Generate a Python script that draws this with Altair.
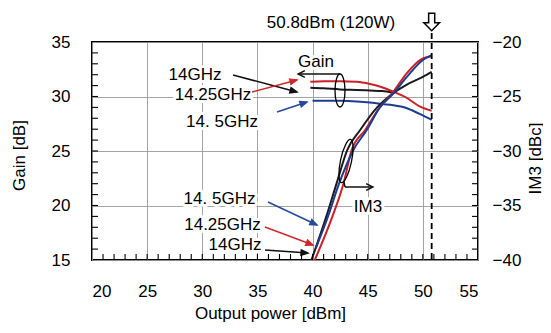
import math
import altair as alt
import pandas as pd

# ---------------- data ----------------
SERIES = ["14GHz", "14.25GHz", "14.5GHz"]
COLORS = ["#1a1a1a", "#cc1f26", "#1d3c8f"]

# Gain [dB] vs output power [dBm]
gain_14_p = [39.8, 41.0, 42.5, 44.0, 45.2, 46.3, 47.3]
gain_14_v = [30.8, 30.75, 30.65, 30.6, 30.55, 30.5, 30.35]
gain_1425_p = [39.8, 41.0, 42.5, 44.0, 45.2, 46.3, 47.3, 48.5, 49.7, 50.8]
gain_1425_v = [31.35, 31.4, 31.4, 31.35, 31.15, 30.85, 30.45, 29.9, 29.1, 28.7]
gain_145_p = [40.0, 41.0, 42.5, 44.0, 45.2, 46.3, 47.3, 48.5, 49.7, 50.8]
gain_145_v = [29.6, 29.6, 29.6, 29.55, 29.45, 29.3, 29.2, 28.95, 28.4, 27.85]

# IM3 [dBc] vs output power [dBm]
im3_14_p = [39.9, 41.25, 42.2, 43.15, 44.3, 45.85, 47.3, 48.55, 50.0, 50.8]
im3_14_v = [-40.0, -36.0, -32.9, -29.9, -28.1, -26.0, -24.7, -23.9, -23.2, -22.75]
im3_1425_p = [40.2, 41.8, 42.8, 43.55, 44.75, 46.1, 47.3, 48.55, 50.0, 50.8]
im3_1425_v = [-40.0, -36.0, -33.0, -29.9, -28.1, -26.0, -24.6, -22.85, -21.5, -21.3]
im3_145_p = [40.3, 41.4, 42.4, 43.7, 44.9, 46.1, 47.3, 48.55, 50.0, 50.8]
im3_145_v = [-38.9, -36.0, -33.0, -29.9, -28.1, -26.0, -24.75, -23.2, -21.65, -21.2]

MAX_POWER = 50.8
X_TICKS = [20, 25, 30, 35, 40, 45, 50, 55]
GAIN_TICKS = [15, 20, 25, 30, 35]
IM3_OFFSET = 55  # IM3 -40..-20 dBc drawn on the 15..35 dB scale
X_MINOR = list(range(21, 55))
Y_MINOR = list(range(16, 35))

# ---------------- long tables ----------------
gain_df = pd.concat([
    pd.DataFrame({"power": p, "value": v, "series": s})
    for p, v, s in [(gain_14_p, gain_14_v, SERIES[0]),
                    (gain_1425_p, gain_1425_v, SERIES[1]),
                    (gain_145_p, gain_145_v, SERIES[2])]
])
im3_df = pd.concat([
    pd.DataFrame({"power": p, "im3": v, "series": s})
    for p, v, s in [(im3_14_p, im3_14_v, SERIES[0]),
                    (im3_1425_p, im3_1425_v, SERIES[1]),
                    (im3_145_p, im3_145_v, SERIES[2])]
])

FONT = "Liberation Sans"
FS = 17
W, H = 386, 218

xscale = alt.Scale(domain=[20, 55], nice=False, zero=False)
yscale = alt.Scale(domain=[15, 35], nice=False, zero=False)
color = alt.Color("series:N", scale=alt.Scale(domain=SERIES, range=COLORS), legend=None)

x_axis = alt.Axis(orient="bottom", values=X_TICKS, grid=True, gridColor="#9a9a9a",
                  gridWidth=0.9, domain=False, ticks=False, tickSize=0, labelPadding=23,
                  labelFont=FONT, labelFontSize=FS, labelColor="black",
                  title="Output power [dBm]", titleFont=FONT, titleFontSize=FS,
                  titleFontWeight="normal", titleColor="black",
                  titleBaseline="middle", titleX=178, titleY=53)

gain_lines = alt.Chart(gain_df).mark_line(strokeWidth=2, interpolate="monotone").encode(
    x=alt.X("power:Q", scale=xscale, axis=x_axis),
    y=alt.Y("value:Q", scale=yscale,
            axis=alt.Axis(orient="left", values=GAIN_TICKS, grid=True, gridColor="#9a9a9a",
                          gridWidth=0.9, domain=False, ticks=False, tickSize=0,
                          labelPadding=22, labelFont=FONT, labelFontSize=FS,
                          labelColor="black", title="Gain [dB]", titleFont=FONT,
                          titleFontSize=FS, titleFontWeight="normal", titleColor="black",
                          titleAngle=270, titleBaseline="middle", titleAlign="center",
                          titleX=-73, titleY=113)),
    color=color,
    detail="series:N",
)

im3_lines = alt.Chart(im3_df).transform_calculate(
    y=f"datum.im3 + {IM3_OFFSET}"
).mark_line(strokeWidth=2, interpolate="monotone").encode(
    x=alt.X("power:Q", scale=xscale, axis=None),
    y=alt.Y("y:Q", scale=yscale,
            axis=alt.Axis(orient="right", values=GAIN_TICKS, grid=False, domain=False,
                          ticks=False, tickSize=0, labelPadding=14,
                          labelExpr=f"format(datum.value - {IM3_OFFSET}, 'd')",
                          labelFont=FONT, labelFontSize=FS, labelColor="black",
                          title="IM3 [dBc]", titleFont=FONT, titleFontSize=FS,
                          titleFontWeight="normal", titleColor="black", titleAngle=270,
                          titleBaseline="middle", titleAlign="center", titleX=57, titleY=116)),
    color=color,
    detail="series:N",
)

# minor inward ticks along the frame
xt = pd.DataFrame({"xm": X_MINOR})
yt = pd.DataFrame({"ym": Y_MINOR})
TICK_LEN = 6
tick_x = alt.Chart(xt).mark_tick(color="black", thickness=1.1, size=TICK_LEN,
                                 orient="vertical", opacity=1).encode(
    x=alt.X("xm:Q", scale=xscale, axis=None), y=alt.value(H - TICK_LEN / 2))
tick_yl = alt.Chart(yt).mark_tick(color="black", thickness=1.1, size=TICK_LEN,
                                  orient="horizontal", opacity=1).encode(
    y=alt.Y("ym:Q", scale=yscale, axis=None), x=alt.value(TICK_LEN / 2))
tick_yr = alt.Chart(yt).mark_tick(color="black", thickness=1.1, size=TICK_LEN,
                                  orient="horizontal", opacity=1).encode(
    y=alt.Y("ym:Q", scale=yscale, axis=None), x=alt.value(W - TICK_LEN / 2))

# dashed line at maximum power
one = pd.DataFrame({"p": [MAX_POWER]})
dash = alt.Chart(one).mark_rule(color="black", strokeWidth=1.8, strokeDash=[6, 4]).encode(
    x=alt.X("p:Q", scale=xscale, axis=None), y=alt.value(-9), y2=alt.value(H))
down_arrow = alt.Chart(one).mark_point(
    shape="M -0.35 -1 L 0.35 -1 L 0.35 0.1 L 0.9 0.1 L 0 1 L -0.9 0.1 L -0.35 0.1 Z",
    filled=False, color="black", strokeWidth=1.5, size=300, opacity=1
).encode(x=alt.X("p:Q", scale=xscale, axis=None), y=alt.value(-20))

# ---------------- annotations (pixel positions in the plot area) ----------------
BLK, RED, BLU = "#111111", "#cc2a2a", "#254a9c"
texts = pd.DataFrame([
    ("Gain", 224, 19.5, FS),
    ("IM3", 276, 164.5, FS),
    ("14GHz", 103, 33, FS),
    ("14.25GHz", 121, 53, FS),
    ("14. 5GHz", 130, 79.5, FS),
    ("14. 5GHz", 127.5, 156.5, FS),
    ("14.25GHz", 130.5, 183, FS),
    ("14GHz", 143, 203, FS),
    ("50.8dBm (120W)", 239, -19, 17),
], columns=["txt", "px", "py", "fs"])

arrows = [
    (141, 33, 205, 50, BLK, "tri"),
    (160, 50, 205, 38, RED, "tri"),
    (185, 70, 215, 60, BLU, "tri"),
    (176, 160, 225, 183, BLU, "tri"),
    (173, 185, 221, 203, RED, "tri"),
    (173, 208, 216, 211, BLK, "tri"),
    (248, 32, 206, 32, BLK, "chev"),
    (252, 140, 253, 145, BLK, "none"),
    (253, 145, 281, 145, BLK, "chev"),
]
arr_df = pd.DataFrame(arrows, columns=["x1", "y1", "x2", "y2", "col", "head"])

TRI = "M -1 -0.8 L 1 0 L -1 0.8 Z"
CHEV = "M -1 -1 L 1 0 L -1 1"
heads = []
for x1, y1, x2, y2, col, kind in arrows:
    if kind == "none":
        continue
    ang = math.degrees(math.atan2(y2 - y1, x2 - x1))
    ux, uy = math.cos(math.radians(ang)), math.sin(math.radians(ang))
    r = 3.5
    heads.append({"hx": x2 - r * ux, "hy": y2 - r * uy, "ang": (ang + 360) % 360,
                  "col": col, "shape": TRI if kind == "tri" else CHEV,
                  "fillc": col if kind == "tri" else "transparent"})
head_df = pd.DataFrame(heads)


def ellipse_path(a):
    k = 0.5523
    return (f"M 0 -1 C {k*a:.3f} -1 {a:.3f} {-k:.3f} {a:.3f} 0 "
            f"C {a:.3f} {k:.3f} {k*a:.3f} 1 0 1 "
            f"C {-k*a:.3f} 1 {-a:.3f} {k:.3f} {-a:.3f} 0 "
            f"C {-a:.3f} {-k:.3f} {-k*a:.3f} -1 0 -1 Z")


ell_df = pd.DataFrame([
    {"ex": 248, "ey": 48.5, "shape": ellipse_path(10 / 33), "size": 33 ** 2, "ang": 0},
    {"ex": 254, "ey": 119, "shape": ellipse_path(11 / 44), "size": 44 ** 2, "ang": 12},
])

arrow_lines = alt.Chart(arr_df).mark_rule(strokeWidth=1.5).encode(
    x=alt.X("x1:Q", scale=None, axis=None), y=alt.Y("y1:Q", scale=None, axis=None),
    x2="x2:Q", y2="y2:Q", color=alt.Color("col:N", scale=None))

arrow_heads = alt.Chart(head_df).mark_point(size=45, strokeWidth=1.5, opacity=1).encode(
    x=alt.X("hx:Q", scale=None, axis=None), y=alt.Y("hy:Q", scale=None, axis=None),
    shape=alt.Shape("shape:N", scale=None), angle=alt.Angle("ang:Q", scale=None),
    stroke=alt.Stroke("col:N", scale=None), fill=alt.Fill("fillc:N", scale=None))

ellipses = alt.Chart(ell_df).mark_point(filled=False, color="black", strokeWidth=1.3,
                                         opacity=1).encode(
    x=alt.X("ex:Q", scale=None, axis=None), y=alt.Y("ey:Q", scale=None, axis=None),
    shape=alt.Shape("shape:N", scale=None), size=alt.Size("size:Q", scale=None),
    angle=alt.Angle("ang:Q", scale=None))

halo = alt.Chart(texts).mark_text(font=FONT, align="center", baseline="middle",
                                   fill="white", stroke="white", strokeWidth=6,
                                   strokeJoin="round").encode(
    x=alt.X("px:Q", scale=None, axis=None), y=alt.Y("py:Q", scale=None, axis=None),
    text="txt:N", size=alt.Size("fs:Q", scale=None))
labels = alt.Chart(texts).mark_text(font=FONT, align="center", baseline="middle",
                                     color="black").encode(
    x=alt.X("px:Q", scale=None, axis=None), y=alt.Y("py:Q", scale=None, axis=None),
    text="txt:N", size=alt.Size("fs:Q", scale=None))

chart = alt.layer(
    gain_lines, im3_lines, dash, down_arrow,
    halo, arrow_lines, arrow_heads, ellipses, labels,
    tick_x, tick_yl, tick_yr,
).resolve_scale(x="shared", y="shared").resolve_axis(x="independent", y="independent").properties(
    width=W, height=H,
    autosize=alt.AutoSizeParams(type="none"),
    padding={"left": 84, "top": 34, "right": 65, "bottom": 65},
).configure_view(stroke="black", strokeWidth=2)

chart.save("out.html", embed_options={"renderer": "svg", "actions": False})
